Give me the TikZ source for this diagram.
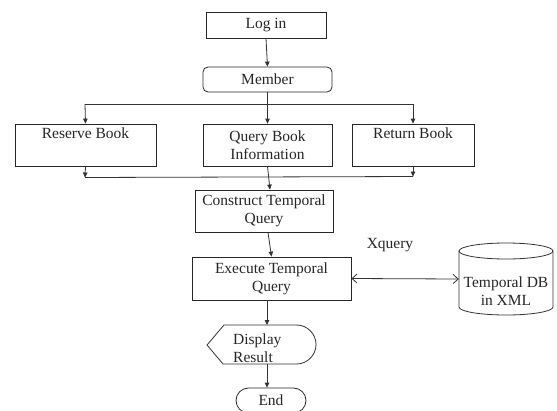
\documentclass[tikz,border=0pt]{standalone}
\usepackage{fontspec}
\setmainfont{Liberation Serif}
\usetikzlibrary{arrows.meta,calc}
\begin{document}
\begin{tikzpicture}[x=1pt,y=-1pt,
  font=\fontsize{15.5}{18}\selectfont,
  text=black!85,
  every node/.style={inner sep=0pt},
  stepbox/.style={draw=black!85, line width=0.8pt, align=center},
  roundbox/.style={stepbox, rounded corners=5pt},
  flow/.style={draw=black!80, line width=0.8pt},
  arr/.style={flow, -{Triangle[length=5pt,width=4.5pt]}},
  dbl/.style={flow, {Straight Barb[length=5pt,width=9pt]}-{Straight Barb[length=5pt,width=9pt]}}
]
\useasboundingbox (0,0) rectangle (557,410);

% process boxes
\node[stepbox, minimum width=120pt, minimum height=26pt] (login) at (266,25) {Log in};
\node[roundbox, minimum width=129pt, minimum height=25pt] (member) at (267.5,79.5) {Member};
\node[stepbox, minimum width=141pt, minimum height=42pt] (reserve) at (85.5,145) {Reserve Book\\\strut};
\node[stepbox, minimum width=129pt, minimum height=42pt] (query) at (267.5,145) {Query Book\\Information};
\node[stepbox, minimum width=122pt, minimum height=42pt] (return) at (413,145) {Return Book\\\strut};
\node[stepbox, minimum width=138pt, minimum height=42pt] (construct) at (264,211) {Construct Temporal\\Query};
\node[stepbox, minimum width=159pt, minimum height=43pt] (execute) at (271.5,278.5) {Execute Temporal\\Query};

% database cylinder
\node[minimum width=94pt, minimum height=72pt] (db) at (506,279) {};
\draw[flow] (459,251) -- (459,307) arc[start angle=180, end angle=0, x radius=47, y radius=8]
  -- (553,251);
\draw[flow] (506,251) ellipse[x radius=47, y radius=8];
\node[align=center] (dbtext) at (506,291) {Temporal DB\\in XML};

\node (xq) at (390,245) {Xquery};

% display terminal
\node[align=left, anchor=west] (disp) at (233,348.5) {Display\\Result};
\draw[flow] (224,325) -- (296.5,325) arc[start angle=-90, end angle=90, radius=19.5]
  -- (223,364) -- (207,345) -- cycle;
\coordinate (dispTop) at (267,325);
\coordinate (dispBot) at (267,364);

% end terminal
\node[draw=black!85, line width=0.8pt, rounded corners=12.5pt, minimum width=70pt, minimum height=25pt] (end) at (271,400.5) {End};

% connectors
\draw[arr] (login.south) -- (member.north);
\coordinate (splitL) at (85,104);
\coordinate (splitR) at (413,104);
\draw[flow] (splitL) -- (splitR);
\draw[arr] (splitL) -- (reserve.north);
\draw[arr] (splitR) -- (return.north);
\draw[arr] (member.south) -- (query.north);

\coordinate (joinL) at (85,177.5);
\coordinate (joinR) at (413,176.5);
\draw[arr] (reserve.south) -- (joinL);
\draw[arr] (return.south) -- (joinR);
\draw[flow] (joinL) -- (joinR);
\draw[arr] (query.south) -- ([xshift=6pt]construct.north);
\draw[arr] ([xshift=4pt]construct.south) -- (execute.north);
\draw[dbl] (execute.east) -- (db.west);
\draw[arr] ([xshift=-4.5pt]execute.south) -- (dispTop);
\draw[arr] (dispBot) -- (dispBot |- end.north);
\end{tikzpicture}
\end{document}
